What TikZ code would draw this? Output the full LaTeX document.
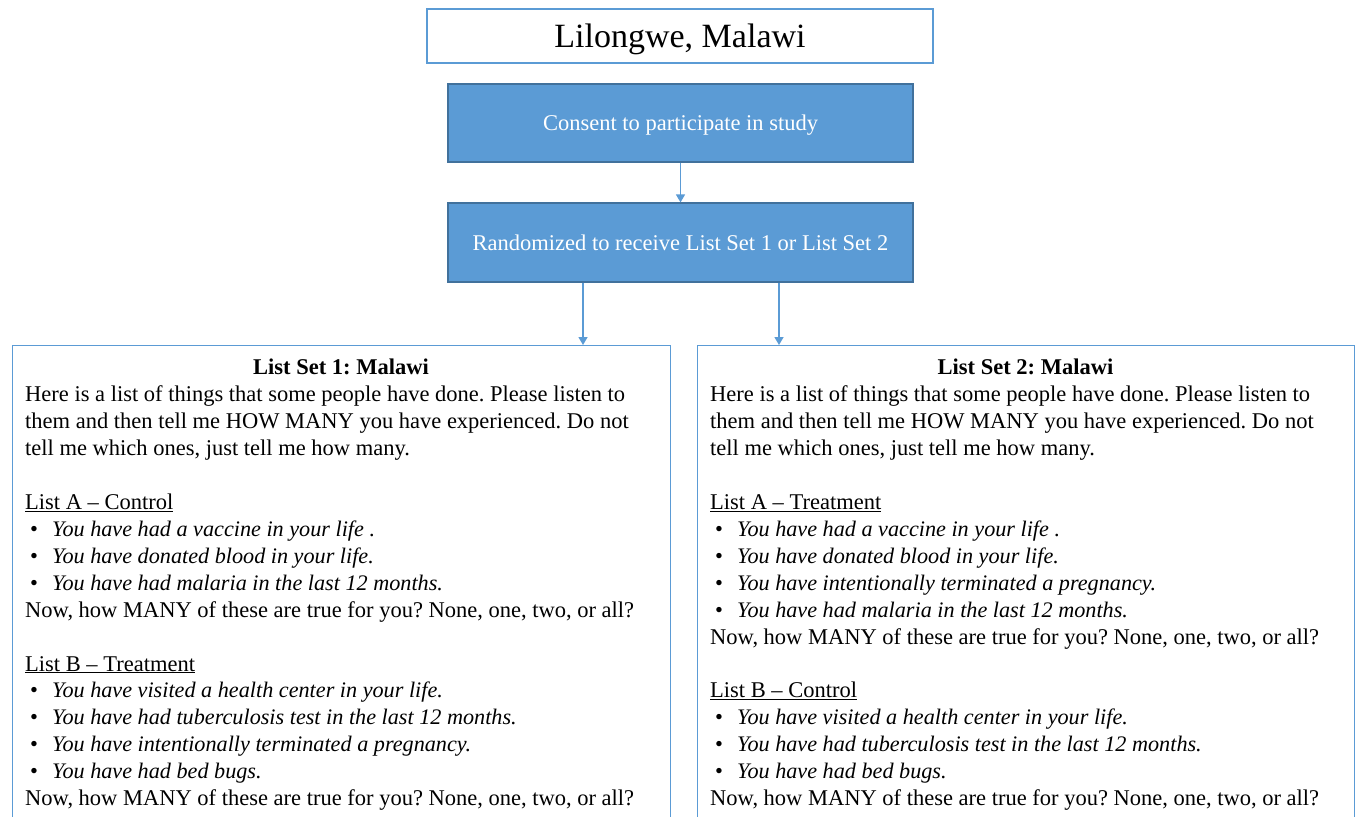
\documentclass[tikz,border=0pt]{standalone}
\usepackage{fontspec}
\setmainfont{Liberation Serif}
\usetikzlibrary{arrows.meta}
\definecolor{wblue}{HTML}{5B9BD5}
\definecolor{dblue}{HTML}{41719C}
\frenchspacing
\newcommand\tline[4]{\node[txt] (#1) at (#2,{401.7+26.93*#3}) {#4};}
\newcommand\bline[4]{\node[txt] (#1b) at (#2+5,{401.7+26.93*#3}) {\textbullet};
  \node[txt, font=\fontsize{22.2}{27}\selectfont\itshape] (#1) at (#2+27,{401.7+26.93*#3}) {#4};}
\tikzset{
  txt/.style={anchor=base west, inner sep=0pt, font=\fontsize{22.5}{27}\selectfont},
  bluebox/.style={draw=dblue, line width=1.2pt, fill=wblue, text=white,
    font=\fontsize{22.5}{27}\selectfont, inner sep=0pt, text depth=0pt},
  whitebox/.style={draw=wblue, line width=1.4pt, fill=white, inner sep=0pt},
  arr/.style={draw=wblue, line width=1.4pt, -{Triangle[width=9pt,length=8pt]}}
}
\begin{document}
\begin{tikzpicture}[x=1pt,y=-1pt]
\useasboundingbox (0,0) rectangle (1356,816);
\clip (0,0) rectangle (1356,816);
\fill[white] (0,0) rectangle (1356,816);
% top boxes
\node[whitebox, minimum width=506pt, minimum height=54pt, text depth=0pt,
  font=\fontsize{34}{40}\selectfont] (place) at (680,36) {Lilongwe, Malawi};
\node[bluebox, minimum width=465pt, minimum height=78pt] (consent) at (680.5,123) {Consent to participate in study};
\node[bluebox, minimum width=465pt, minimum height=79pt] (random) at (680.5,242.5) {Randomized to receive List Set 1 or List Set 2};
% list boxes
\node[whitebox, anchor=north west, minimum width=658pt, minimum height=520pt] (left) at (12,345) {};
\node[whitebox, anchor=north west, minimum width=657pt, minimum height=520pt] (right) at (697,345) {};
% connectors
\coordinate (a1) at (583,0);
\coordinate (a2) at (779,0);
\draw[arr] (consent.south) -- (random.north);
\draw[arr] (random.south -| a1) -- (left.north -| a1);
\draw[arr] (random.south -| a2) -- (right.north -| a2);
% left text
\node[txt, anchor=base, font=\fontsize{22.5}{27}\selectfont\bfseries] (lt) at (341,374) {List Set 1: Malawi};
\tline{l0}{25}{0}{Here is a list of things that some people have done. Please listen to}
\tline{l1}{25}{1}{them and then tell me HOW MANY you have experienced. Do not}
\tline{l2}{25}{2}{tell me which ones, just tell me how many.}
\tline{l4}{25}{4}{\underline{List A – Control}}
\bline{l5}{25}{5}{You have had a vaccine in your life .}
\bline{l6}{25}{6}{You have donated blood in your life.}
\bline{l7}{25}{7}{You have had malaria in the last 12 months.}
\tline{l8}{25}{8}{Now, how MANY of these are true for you? None, one, two, or all?}
\tline{l10}{25}{10}{\underline{List B – Treatment}}
\bline{l11}{25}{11}{You have visited a health center in your life.}
\bline{l12}{25}{12}{You have had tuberculosis test in the last 12 months.}
\bline{l13}{25}{13}{You have intentionally terminated a pregnancy.}
\bline{l14}{25}{14}{You have had bed bugs.}
\tline{l15}{25}{15}{Now, how MANY of these are true for you? None, one, two, or all?}
% right text
\node[txt, anchor=base, font=\fontsize{22.5}{27}\selectfont\bfseries] (rt) at (1025.5,374) {List Set 2: Malawi};
\tline{r0}{710}{0}{Here is a list of things that some people have done. Please listen to}
\tline{r1}{710}{1}{them and then tell me HOW MANY you have experienced. Do not}
\tline{r2}{710}{2}{tell me which ones, just tell me how many.}
\tline{r4}{710}{4}{\underline{List A – Treatment}}
\bline{r5}{710}{5}{You have had a vaccine in your life .}
\bline{r6}{710}{6}{You have donated blood in your life.}
\bline{r7}{710}{7}{You have intentionally terminated a pregnancy.}
\bline{r8}{710}{8}{You have had malaria in the last 12 months.}
\tline{r9}{710}{9}{Now, how MANY of these are true for you? None, one, two, or all?}
\tline{r11}{710}{11}{\underline{List B – Control}}
\bline{r12}{710}{12}{You have visited a health center in your life.}
\bline{r13}{710}{13}{You have had tuberculosis test in the last 12 months.}
\bline{r14}{710}{14}{You have had bed bugs.}
\tline{r15}{710}{15}{Now, how MANY of these are true for you? None, one, two, or all?}
\end{tikzpicture}
\end{document}
